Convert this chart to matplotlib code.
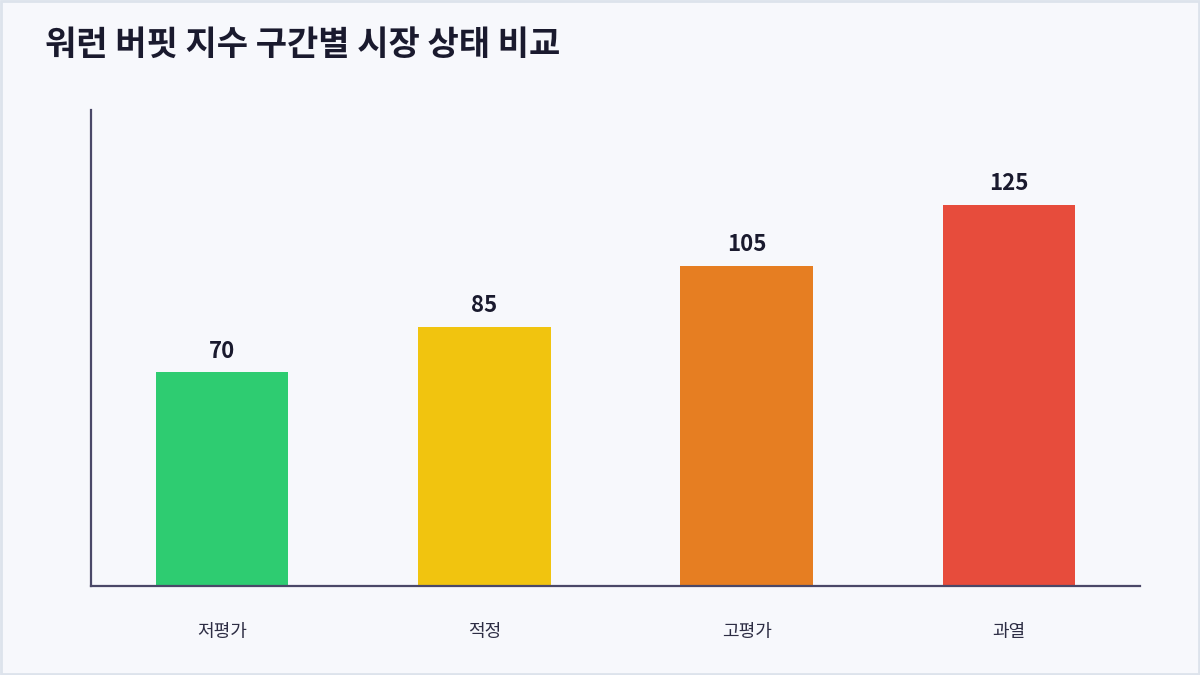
import matplotlib
matplotlib.use("Agg")
import matplotlib.pyplot as plt
from matplotlib.patches import Rectangle

plt.rcParams['font.family'] = ['Noto Sans CJK KR', 'DejaVu Sans']

# data
categories = ["저평가", "적정", "고평가", "과열"]
values = [70, 85, 105, 125]
colors = ["#2ecc71", "#f1c40f", "#e67e22", "#e74c3c"]

title = "워런 버핏 지수 구간별 시장 상태 비교"

bg = "#f7f8fc"
text_dark = "#1a1a2e"
spine_col = "#4a4868"

fig = plt.figure(figsize=(12, 6.75), dpi=100, facecolor=bg)
ax = fig.add_axes([91 / 1200, 1 - 586 / 675, (1140 - 91) / 1200, (586 - 110) / 675])
ax.set_facecolor(bg)

x = list(range(len(categories)))
bars = ax.bar(x, values, width=0.505, color=colors, zorder=2)

for b, v in zip(bars, values):
    ax.annotate(str(v), (b.get_x() + b.get_width() / 2, v),
                xytext=(0, 7), textcoords="offset points",
                ha="center", va="bottom", fontsize=16, fontweight="bold",
                color=text_dark)

ax.set_xlim(-0.5, 3.5)
ax.set_ylim(0, 156)
ax.set_xticks(x)
ax.set_xticklabels(categories, fontsize=13, fontweight="medium", color="#2d2d44")
ax.tick_params(axis="x", length=0, pad=27)
ax.set_yticks([])

for side in ("top", "right"):
    ax.spines[side].set_visible(False)
for side in ("left", "bottom"):
    ax.spines[side].set_color(spine_col)
    ax.spines[side].set_linewidth(1.6)

fig.text(45 / 1200, 1 - 44 / 675, title, fontsize=24.5, fontweight="bold",
         color=text_dark, ha="left", va="center")

# thin frame around the whole card
fig.patches.append(Rectangle((0.001, 0.0015), 0.998, 0.997, transform=fig.transFigure,
                             fill=False, edgecolor="#dde3ec", linewidth=2))

fig.savefig("out.png", dpi=100, facecolor=bg)
